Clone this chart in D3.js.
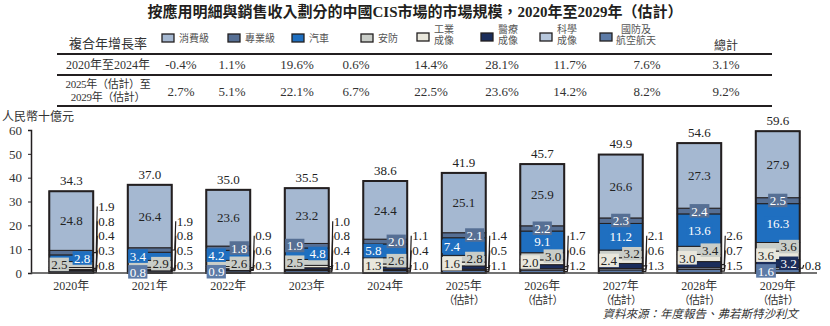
<!DOCTYPE html>
<html><head><meta charset="utf-8">
<script src="https://cdn.jsdelivr.net/npm/d3@7"></script>
<style>
body{margin:0;background:#fff;}
svg{display:block;font-family:"Liberation Serif","Noto Sans CJK TC",serif;}
</style></head>
<body><svg id="c" width="830" height="326"></svg>
<script>
// ---------------- data ----------------
const years = ["2020年","2021年","2022年","2023年","2024年","2025年","2026年","2027年","2028年","2029年"];
const yearNotes = ["","","","","","（估計）","（估計）","（估計）","（估計）","（估計）"];
const consumer     = [24.8,26.4,23.6,23.2,24.4,25.1,25.9,26.6,27.3,27.9];
const professional = [1.9,1.9,1.8,1.9,2.0,2.1,2.2,2.3,2.4,2.5];
const automotive   = [2.8,3.4,4.2,4.8,5.8,7.4,9.1,11.2,13.6,16.3];
const security     = [2.5,2.9,2.6,2.5,2.6,2.8,3.0,3.2,3.4,3.6];
const industrial   = [0.8,0.8,0.9,1.0,1.3,1.6,2.0,2.4,3.0,3.6];
const medical      = [0.4,0.5,0.6,0.8,1.1,1.4,1.7,2.1,2.6,3.2];
const scientific   = [0.3,0.3,0.3,0.4,0.4,0.5,0.6,0.6,0.7,0.8];
const defense      = [0.8,0.8,0.9,1.0,1.0,1.1,1.2,1.3,1.5,1.6];
const totals       = [34.3,37.0,35.0,35.5,38.6,41.9,45.7,49.9,54.6,59.6];
const seriesNames  = ["消費級","專業級","汽車","安防","工業成像","醫療成像","科學成像","國防及航空航天"];
const legendLines  = [["消費級"],["專業級"],["汽車"],["安防"],["工業","成像"],["醫療","成像"],["科學","成像"],["國防及","航空航天"]];
const cagrRowLabels = [["2020年至2024年"],["2025年（估計）至","2029年（估計）"]];
const cagr2020_2024 = ["-0.4%","1.1%","19.6%","0.6%","14.4%","28.1%","11.7%","7.6%","3.1%"];
const cagr2025_2029 = ["2.7%","5.1%","22.1%","6.7%","22.5%","23.6%","14.2%","8.2%","9.2%"];
const yTicks = [0,10,20,30,40,50,60];

// ---------------- styling / layout ----------------
const keys = ["consumer","professional","automotive","security","industrial","medical","scientific","defense"];
const valuesByKey = {consumer,professional,automotive,security,industrial,medical,scientific,defense};
const colors = {consumer:"#a5b8d1",professional:"#566f94",automotive:"#1f6fc0",security:"#c9cdc8",
  industrial:"#e9e7dc",medical:"#1b2d5b",scientific:"#b7c7dc",defense:"#5d7ba7"};
const whiteText = new Set(["professional","automotive","medical","defense"]);
// label placement per year: c=center, l=left, r=right, o=outside (right of bar)
const placement = {
  consumer:    "cccccccccc",
  professional:"oorlrrcccc",
  automotive:  "rllrllcccc",
  security:    "lrrlrrrrrr",
  industrial:  "oooollllll",
  medical:     "ooooooooor",
  scientific:  "oooooooooo",
  defense:     "ollooooool"
};
const stackOrder = ["defense","scientific","medical","industrial","security","automotive","professional","consumer"];

const svg = d3.select("#c");
const ink = "#231f20";

// Title
svg.append("text").attr("x",415).attr("y",17).attr("text-anchor","middle")
  .attr("font-size",15).attr("font-weight","bold").attr("fill",ink)
  .text("按應用明細與銷售收入劃分的中國CIS市場的市場規模，2020年至2029年（估計）");

// ---------- table ----------
const colX = [181,232,297,356,431,502,570,647,726];
const swatchX = [162,228,292,361,417,481,540,600];
svg.append("text").attr("x",108).attr("y",48).attr("text-anchor","middle")
  .attr("font-size",13).attr("fill","#333").text("複合年增長率");
legendLines.forEach((lines,i)=>{
  const g = svg.append("g");
  const sy = lines.length>1 ? 33 : 34;
  g.append("rect").attr("x",swatchX[i]).attr("y",sy).attr("width",12).attr("height",8)
    .attr("fill",colors[keys[i]]).attr("stroke",ink).attr("stroke-width",1.3);
  if(lines.length===1){
    g.append("text").attr("x",swatchX[i]+17).attr("y",42).attr("font-size",10).attr("fill","#555").text(lines[0]);
  } else {
    const cx = swatchX[i]+17 + (i===7?19:0);
    lines.forEach((t,j)=>{
      g.append("text").attr("x",cx).attr("y",33+j*11).attr("font-size",10).attr("fill","#555")
        .attr("text-anchor", i===7?"middle":"start").text(t);
    });
  }
});
svg.append("text").attr("x",726).attr("y",50).attr("text-anchor","middle").attr("font-size",12).attr("fill","#333").text("總計");
[54,75,106].forEach(y=>svg.append("line").attr("x1",57).attr("x2",772).attr("y1",y).attr("y2",y)
  .attr("stroke",ink).attr("stroke-width",2));
svg.append("text").attr("x",108).attr("y",69).attr("text-anchor","middle").attr("font-size",12).attr("fill","#333").text(cagrRowLabels[0][0]);
cagrRowLabels[1].forEach((t,j)=>svg.append("text").attr("x",108).attr("y",88+j*13).attr("text-anchor","middle")
  .attr("font-size",11).attr("letter-spacing",-0.3).attr("fill","#333").text(t));
cagr2020_2024.forEach((v,i)=>svg.append("text").attr("x",colX[i]).attr("y",69).attr("text-anchor","middle")
  .attr("font-size",13).attr("fill","#333").text(v));
cagr2025_2029.forEach((v,i)=>svg.append("text").attr("x",colX[i]).attr("y",96).attr("text-anchor","middle")
  .attr("font-size",13).attr("fill","#333").text(v));

// ---------- chart ----------
const x = d3.scaleBand().domain(years).range([32,817]).paddingInner(0.44).paddingOuter(0.22);
const y = d3.scaleLinear().domain([0,60]).range([273,130]);

svg.append("text").attr("x",2).attr("y",121).attr("font-size",12).attr("fill","#333").text("人民幣十億元");

const yAxis = svg.append("g").attr("transform","translate(31,0)")
  .call(d3.axisLeft(y).tickValues(yTicks).tickSize(3).tickPadding(6));
yAxis.select(".domain").attr("stroke",ink).attr("stroke-width",1.5);
yAxis.selectAll(".tick line").attr("stroke",ink);
yAxis.selectAll("text").attr("font-size",13).attr("fill","#333").attr("font-family","Liberation Serif");

const rows = years.map((yr,i)=>{const o={year:yr}; keys.forEach(k=>o[k]=valuesByKey[k][i]); return o;});
const stacked = d3.stack().keys(stackOrder)(rows);

const bars = svg.append("g");
stacked.forEach(layer=>{
  bars.selectAll(null).data(layer).enter().append("rect")
    .attr("x",d=>x(d.data.year)).attr("width",x.bandwidth())
    .attr("y",d=>y(d[1])).attr("height",d=>y(d[0])-y(d[1]))
    .attr("fill",colors[layer.key]).attr("stroke",ink).attr("stroke-width",1);
});
// bar outlines
bars.selectAll(null).data(rows).enter().append("rect")
  .attr("x",d=>x(d.year)).attr("width",x.bandwidth())
  .attr("y",d=>y(d3.sum(keys,k=>d[k]))).attr("height",d=>y(0)-y(d3.sum(keys,k=>d[k])))
  .attr("fill","none").attr("stroke",ink).attr("stroke-width",2);

// x axis
svg.append("line").attr("x1",31).attr("x2",817).attr("y1",y(0)).attr("y2",y(0)).attr("stroke","#444").attr("stroke-width",1.5);
years.forEach((yr,i)=>{
  const cx = x(yr)+x.bandwidth()/2;
  svg.append("text").attr("x",cx).attr("y",290).attr("text-anchor","middle").attr("font-size",12).attr("fill","#333").text(yr);
  if(yearNotes[i]) svg.append("text").attr("x",cx).attr("y",303.5).attr("text-anchor","middle")
    .attr("font-size",11).attr("letter-spacing",-0.8).attr("fill","#333").text(yearNotes[i]);
});

// labels
const lab = svg.append("g").attr("font-size",13);
years.forEach((yr,i)=>{
  const x0 = x(yr), x1 = x0 + x.bandwidth();
  let outIdx = 0;
  stacked.forEach(layer=>{
    const k = layer.key, d = layer[i];
    const v = valuesByKey[k][i];
    const mode = placement[k][i];
    const midY = y((d[0]+d[1])/2);
    const txt = v.toFixed(1);
    if(mode==="o"){
      const ly = y(0) - 8 - outIdx*14.6;
      outIdx++;
      lab.append("path").attr("d",`M${x1},${midY}L${x1+3},${midY}L${x1+4},${ly}`)
        .attr("fill","none").attr("stroke",ink).attr("stroke-width",1.2);
      lab.append("text").attr("x",x1+5).attr("y",ly).attr("dy","0.35em").attr("fill","#222").text(txt);
      return;
    }
    const cx = mode==="l" ? x0+10 : mode==="r" ? x1-11 : (x0+x1)/2;
    const t = lab.append("text").attr("x",cx).attr("y",midY).attr("dy","0.35em").attr("text-anchor","middle")
      .attr("fill", whiteText.has(k) ? "#fff" : "#222").text(txt);
    if(k!=="consumer"){
      const bb = t.node().getBBox();
      lab.insert("rect", () => t.node()).attr("x",bb.x-1.5).attr("y",bb.y+0.5).attr("width",bb.width+3).attr("height",bb.height-1.5)
        .attr("fill",colors[k]);
    }
  });
  svg.append("text").attr("x",(x0+x1)/2).attr("y",y(totals[i])-6).attr("text-anchor","middle")
    .attr("font-size",13).attr("fill","#222").text(totals[i].toFixed(1));
});

svg.append("text").attr("x",798).attr("y",318).attr("text-anchor","end").attr("font-size",11.5)
  .attr("font-style","italic").attr("fill","#333").text("資料來源：年度報告、弗若斯特沙利文");
</script></body></html>
